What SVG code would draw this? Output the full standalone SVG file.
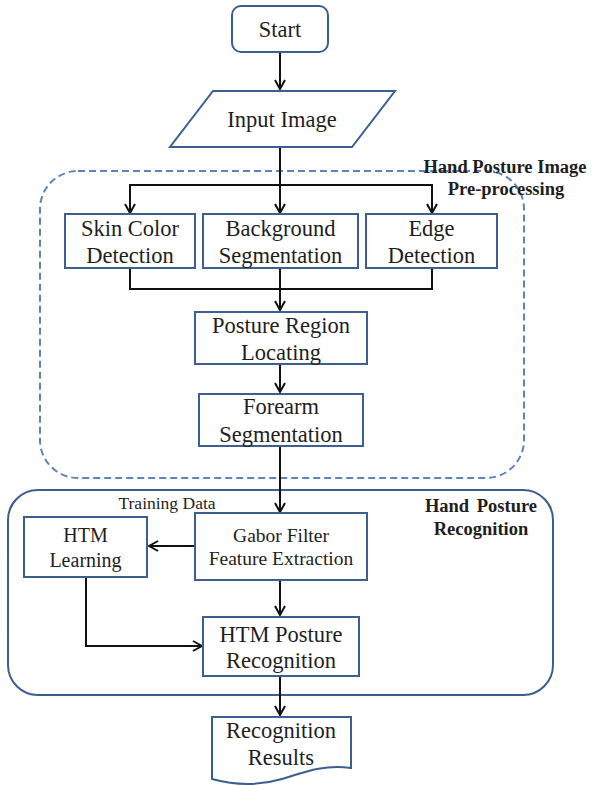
<svg xmlns="http://www.w3.org/2000/svg" width="593" height="785" viewBox="0 0 593 785">
<style>
.box{fill:#fff;stroke:#3c5f8f;stroke-width:2}
.t{font-family:"Liberation Serif","Times New Roman",serif;font-size:22.5px;fill:#1e1e1e;text-anchor:middle}
.s{font-size:19.5px}
.b{font-family:"Liberation Serif","Times New Roman",serif;font-weight:bold;font-size:18.5px;fill:#1e1e1e;text-anchor:middle}
.c{fill:none;stroke:#111;stroke-width:2}
</style>
<defs>
<marker id="arr" markerUnits="userSpaceOnUse" viewBox="0 0 12 12" refX="11" refY="6" markerWidth="12" markerHeight="12" orient="auto">
<path d="M2,1 L11,6 L2,11" fill="none" stroke="#111" stroke-width="2"/>
</marker>
</defs>
<rect width="593" height="785" fill="#fff"/>
<g id="preprocessing-group">
<rect x="40" y="171" width="484" height="307" rx="38" fill="none" stroke="#5b85ba" stroke-width="2" stroke-dasharray="7,4"/>
<text class="b" x="505" y="173">Hand Posture Image</text>
<text class="b" x="506" y="195">Pre-processing</text>
</g>
<g id="recognition-group">
<rect x="8" y="490" width="545" height="205" rx="30" fill="none" stroke="#3c5f8f" stroke-width="2"/>
<text class="b" x="481" y="512" word-spacing="3">Hand Posture</text>
<text class="b" x="481" y="535">Recognition</text>
</g>
<g id="connectors">
<path class="c" d="M280,52 V89" marker-end="url(#arr)"/>
<path class="c" d="M280,147 V213" marker-end="url(#arr)"/>
<path class="c" d="M280,185 H130 V213" marker-end="url(#arr)"/>
<path class="c" d="M280,185 H432 V213" marker-end="url(#arr)"/>
<path class="c" d="M130,268 V289 H432 V268"/>
<path class="c" d="M280,268 V310" marker-end="url(#arr)"/>
<path class="c" d="M280,364 V392" marker-end="url(#arr)"/>
<path class="c" d="M280,446 V512" marker-end="url(#arr)"/>
<path class="c" d="M195,546 H149" marker-end="url(#arr)"/>
<path class="c" d="M280,580 V615" marker-end="url(#arr)"/>
<path class="c" d="M86,577 V646 H202" marker-end="url(#arr)"/>
<path class="c" d="M280,676 V715" marker-end="url(#arr)"/>
</g>
<g id="start">
<rect class="box" x="232" y="6" width="96" height="46" rx="9"/>
<text class="t" x="280" y="37">Start</text>
</g>
<g id="input-image">
<polygon class="box" points="213,91 395,91 352,147 170,147"/>
<text class="t" x="282" y="127">Input Image</text>
</g>
<g id="skin-color">
<rect class="box" x="65" y="214" width="130" height="54"/>
<text class="t" x="130" y="236">Skin Color</text>
<text class="t" x="130" y="263">Detection</text>
</g>
<g id="background-seg">
<rect class="box" x="203" y="214" width="155" height="54"/>
<text class="t" x="280.5" y="236">Background</text>
<text class="t" x="280.5" y="263">Segmentation</text>
</g>
<g id="edge-detection">
<rect class="box" x="366" y="214" width="131" height="54"/>
<text class="t" x="431.5" y="236">Edge</text>
<text class="t" x="431.5" y="263">Detection</text>
</g>
<g id="posture-region">
<rect class="box" x="195" y="312" width="172" height="52"/>
<text class="t" x="281" y="333">Posture Region</text>
<text class="t" x="281" y="360">Locating</text>
</g>
<g id="forearm">
<rect class="box" x="199" y="394" width="164" height="52"/>
<text class="t" x="281" y="414">Forearm</text>
<text class="t" x="281" y="442">Segmentation</text>
</g>
<g id="gabor">
<rect class="box" x="195" y="513" width="172" height="67"/>
<text class="t s" x="281" y="542">Gabor Filter</text>
<text class="t s" x="281" y="565">Feature Extraction</text>
</g>
<g id="training-data-label">
<text class="t" x="167" y="509" style="font-size:17.5px">Training Data</text>
</g>
<g id="htm-learning">
<rect class="box" x="24" y="517" width="123" height="60"/>
<text class="t" x="85.5" y="542" style="font-size:20px">HTM</text>
<text class="t" x="85.5" y="567" style="font-size:20px">Learning</text>
</g>
<g id="htm-posture">
<rect class="box" x="203" y="617" width="156" height="59"/>
<text class="t" x="281" y="642">HTM Posture</text>
<text class="t" x="281" y="668">Recognition</text>
</g>
<g id="results">
<path class="box" d="M212,717 H351 V768 C322,764 302,773 282,779 C258,786 234,785 212,779 Z"/>
<text class="t" x="281" y="738">Recognition</text>
<text class="t" x="281" y="765">Results</text>
</g>
</svg>
